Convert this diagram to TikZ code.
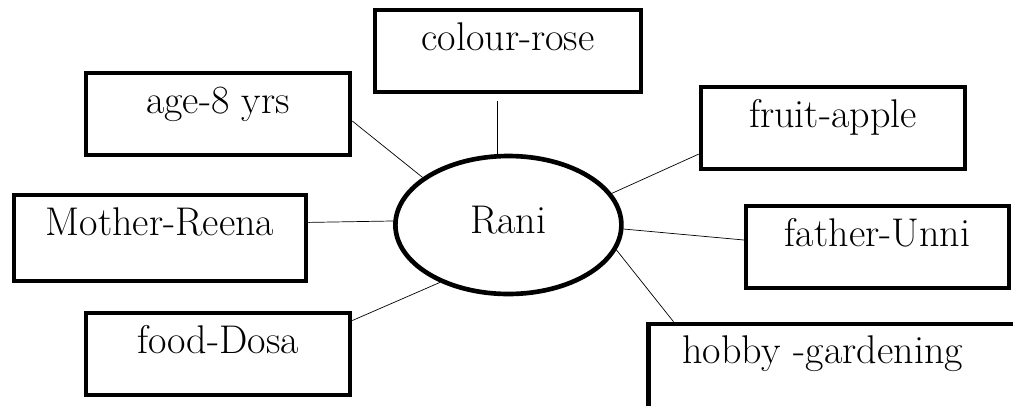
\documentclass[tikz,border=0pt]{standalone}
\usepackage{tikz}
\usetikzlibrary{calc}
\usetikzlibrary{shapes.geometric}

\begin{document}
\begin{tikzpicture}[
    leaf/.style={draw, line width=3.3pt, inner sep=0pt, text height=1cm, text depth=1.05cm, anchor=base, font=\fontsize{28.5}{34}\selectfont},
    link/.style={line width=0.5pt}]
       \useasboundingbox (0,0) rectangle (25.325,-10.125);
       
       \node[draw, ellipse, line width=3.3pt, inner sep=0pt, minimum width=5.65cm, minimum height=3.45cm, text depth=0.26cm, font=\fontsize{28.5}{34}\selectfont] (rani) at (12.71,-5.625) {Rani};
       
       \node[leaf, minimum width=6.65cm] (colour) at (12.7,-1.25) {colour-rose};
       \node[leaf, minimum width=6.6cm] (age) at (5.45,-2.825) {age-8 yrs};
       \node[leaf, minimum width=7.3cm, text depth=1.15cm] (mother) at (4.0,-5.875) {Mother-Reena};
       \node[leaf, minimum width=6.6cm] (food) at (5.45,-8.825) {food-Dosa};
       
       \node[leaf, minimum width=6.6cm] (fruit) at (20.825,-3.175) {fruit-apple};
       \node[leaf, minimum width=6.575cm] (father) at (21.94,-6.15) {father-Unni};
       \node[leaf, anchor=base west, text width=9.7cm, align=left, text height=0.975cm, text depth=1.4cm] (hobby) at (16.15,-9.075) {\hspace*{0.85cm}hobby -gardening};
       
       % lines out of Rani
       \draw[link] ([yshift=-0.17cm]rani.99 |- colour.south) -- (rani.99);
       \draw[link] (age.-3) -- (rani.151);
       \draw[link] (mother.6) -- (rani.178);
       \draw[link] (food.14) -- (rani.220);
       
       \draw[link] (rani.17) -- (fruit.191);
       \draw[link] (rani.-2) -- (father.177);
       \draw[link] (rani.-13) -- ($(hobby.north west)!0.07!(hobby.north east)$);
\end{tikzpicture}
\end{document}
